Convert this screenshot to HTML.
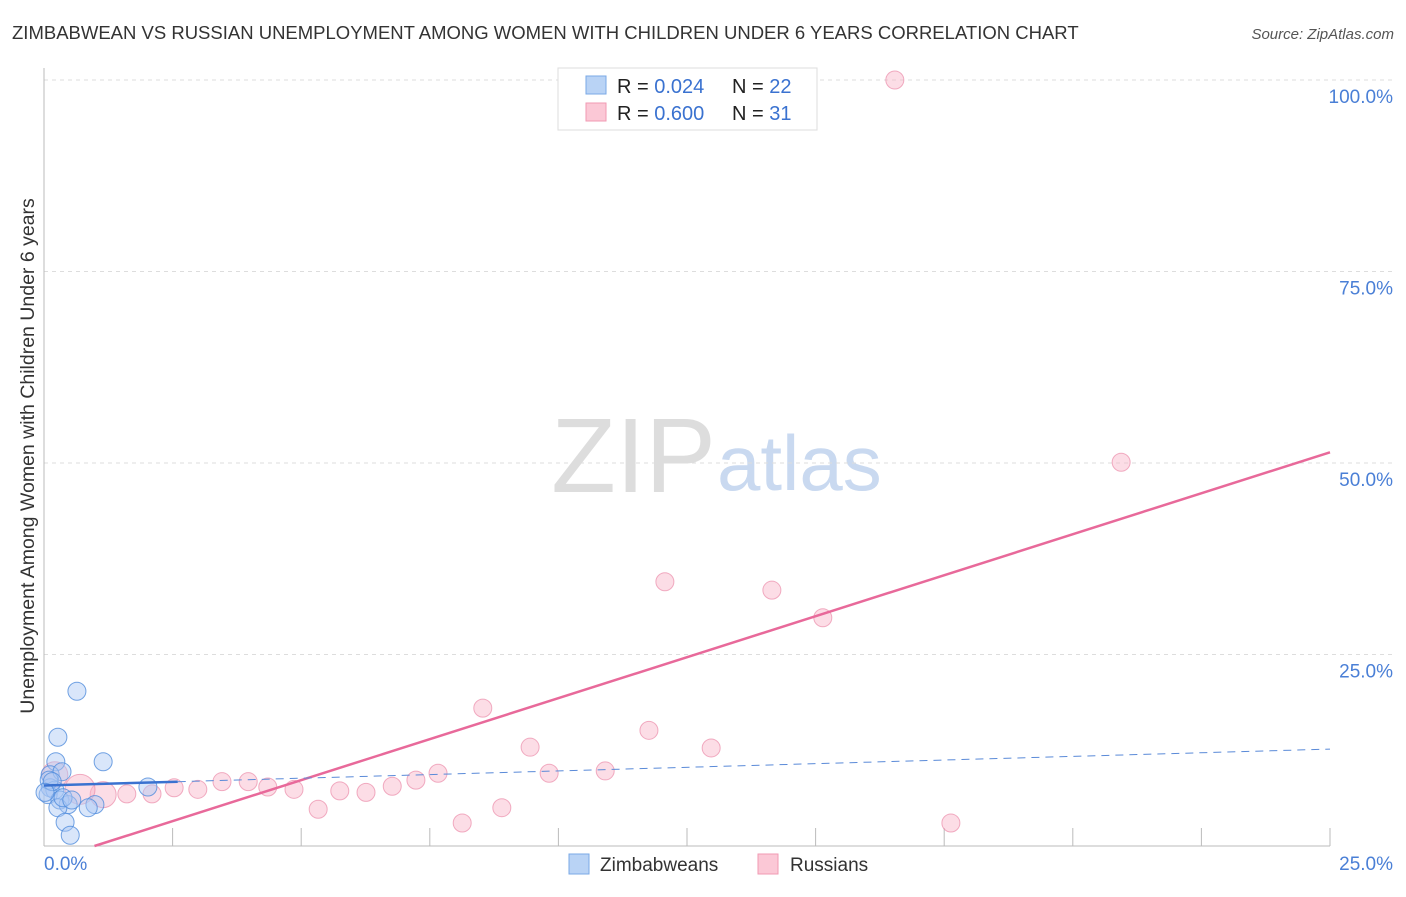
<!DOCTYPE html>
<html><head><meta charset="utf-8"><style>
body{margin:0;background:#fff;font-family:"Liberation Sans",sans-serif;}
svg text{font-family:"Liberation Sans",sans-serif;}
</style></head><body>
<svg id="chart" width="1406" height="892" xmlns="http://www.w3.org/2000/svg">
<text x="12" y="39" font-size="18.5" fill="#333">ZIMBABWEAN VS RUSSIAN UNEMPLOYMENT AMONG WOMEN WITH CHILDREN UNDER 6 YEARS CORRELATION CHART</text>
<text x="1394" y="39" font-size="15" fill="#555" font-style="italic" text-anchor="end">Source: ZipAtlas.com</text>
<text x="716" y="492" font-size="106" fill="#ddd" text-anchor="end" font-family="Liberation Serif">ZIP</text>
<text x="717" y="490" font-size="78" fill="#c9d9f0">atlas</text>
<g id="grid"></g><g id="axes"></g><g id="marks"></g>
<text transform="translate(34,456) rotate(-90)" font-size="19.5" fill="#333" text-anchor="middle">Unemployment Among Women with Children Under 6 years</text>
<g>
<rect x="558" y="68" width="259" height="62" fill="#fff" stroke="#ddd"/>
<rect x="586" y="76" width="20" height="18" fill="#b9d3f5" stroke="#7aa8e6"/>
<rect x="586" y="103" width="20" height="18" fill="#fbc8d6" stroke="#f09ab3"/>
<text x="617" y="93" font-size="20" fill="#222">R = <tspan fill="#3a72d0">0.024</tspan><tspan x="732">N = </tspan><tspan fill="#3a72d0">22</tspan></text>
<text x="617" y="120" font-size="20" fill="#222">R = <tspan fill="#3a72d0">0.600</tspan><tspan x="732">N = </tspan><tspan fill="#3a72d0"> 31</tspan></text>
</g>
<g>
<rect x="569" y="854" width="20" height="20" fill="#b9d3f5" stroke="#7aa8e6"/>
<text x="600" y="871" font-size="19" fill="#333">Zimbabweans</text>
<rect x="758" y="854" width="20" height="20" fill="#fbc8d6" stroke="#f09ab3"/>
<text x="790" y="871" font-size="19" fill="#333">Russians</text>
</g>
</svg>
<script>
const yTicks=[25,50,75,100];
const yTickLabels=["25.0%","50.0%","75.0%","100.0%"];
const xTickLabels=["0.0%","25.0%"];
const blueX=[0.64,0.27,0.23,1.15,0.12,0.35,0.12,0.21,0.08,0.31,0.47,0.99,0.27,0.41,0.51,2.02,0.1,0.16,0.37,0.54,0.86,0.02];
const blueY=[20.2,14.2,11.0,11.0,9.3,9.7,7.6,7.3,6.7,6.0,5.4,5.4,5.0,3.1,1.4,7.7,8.6,8.4,6.3,6.0,5.0,7.0];
const pinkX=[16.54,20.94,12.07,14.15,15.14,8.53,11.76,9.45,12.97,7.66,9.82,10.91,7.23,6.77,5.75,6.26,4.86,5.33,8.9,8.13,17.63,3.97,3.46,4.35,2.99,2.53,2.1,1.61,1.15,0.7,0.21];
const pinkY=[100,50.1,34.5,33.4,29.8,18.0,15.1,12.9,12.8,9.5,9.5,9.8,8.6,7.8,7.2,7.0,7.4,4.8,5.0,3.0,3.0,8.4,8.4,7.7,7.4,7.6,6.8,6.8,6.7,7.4,9.3];
const pinkR=[9,9,9,9,9,9,9,9,9,9,9,9,9,9,9,9,9,9,9,9,9,9,9,9,9,9,9,9,13,15,13];
const blueTrend=[7.9,0.19];
const pinkTrend=[-2.1,2.14];
const NS="http://www.w3.org/2000/svg";
const X=v=>44+v/25*1286, Y=v=>846-v*7.66;
function mk(t,a,p){const e=document.createElementNS(NS,t);for(const k in a)e.setAttribute(k,a[k]);document.getElementById(p).appendChild(e);return e;}
yTicks.forEach((t,i)=>{
 const g=mk('line',{x1:44,x2:1394,y1:Y(t),y2:Y(t),stroke:'#ddd','stroke-dasharray':'4,4'},'grid');
 
 
 const l=mk('text',{x:1393,y:Y(t)+23,'font-size':19,fill:'#4a7fd6','text-anchor':'end'},'grid');l.textContent=yTickLabels[i];
 
 
});
mk('line',{x1:44,x2:44,y1:68,y2:846,stroke:'#bbb'},'axes');
mk('line',{x1:44,x2:1330,y1:846,y2:846,stroke:'#bbb'},'axes');
for(let i=1;i<=10;i++){const t=mk('line',{x1:X(i*2.5),x2:X(i*2.5),y1:828,y2:846,stroke:'#bbb'},'axes');
 
 }
[[0,'start',44],[1,'end',1393]].forEach(([i,a,x])=>{const l=mk('text',{x:x,y:870,'font-size':19,fill:'#4a7fd6','text-anchor':a},'axes');l.textContent=xTickLabels[i];
 
 });
pinkX.forEach((x,i)=>{const c=mk('circle',{cx:X(x),cy:Y(pinkY[i]),r:pinkR[i],fill:'rgba(248,180,200,0.45)',stroke:'rgba(235,140,170,0.7)'},'marks');
 
 });
blueX.forEach((x,i)=>{const c=mk('circle',{cx:X(x),cy:Y(blueY[i]),r:9,fill:'rgba(170,200,245,0.45)',stroke:'rgba(80,140,220,0.8)'},'marks');
 
 });
const x0=(0-pinkTrend[0])/pinkTrend[1];
const pl=mk('line',{x1:X(x0),y1:Y(0),x2:X(25),y2:Y(pinkTrend[0]+pinkTrend[1]*25),stroke:'#e8699a','stroke-width':2.5},'marks');


const bs=mk('line',{x1:X(0),y1:Y(blueTrend[0]),x2:X(2.6),y2:Y(blueTrend[0]+blueTrend[1]*2.6),stroke:'#3a72d0','stroke-width':2.5},'marks');


const bd=mk('line',{x1:X(2.6),y1:Y(blueTrend[0]+blueTrend[1]*2.6),x2:X(25),y2:Y(blueTrend[0]+blueTrend[1]*25),stroke:'#5a8ad8','stroke-width':1,'stroke-dasharray':'8,6'},'marks');


</script>
</body></html>
